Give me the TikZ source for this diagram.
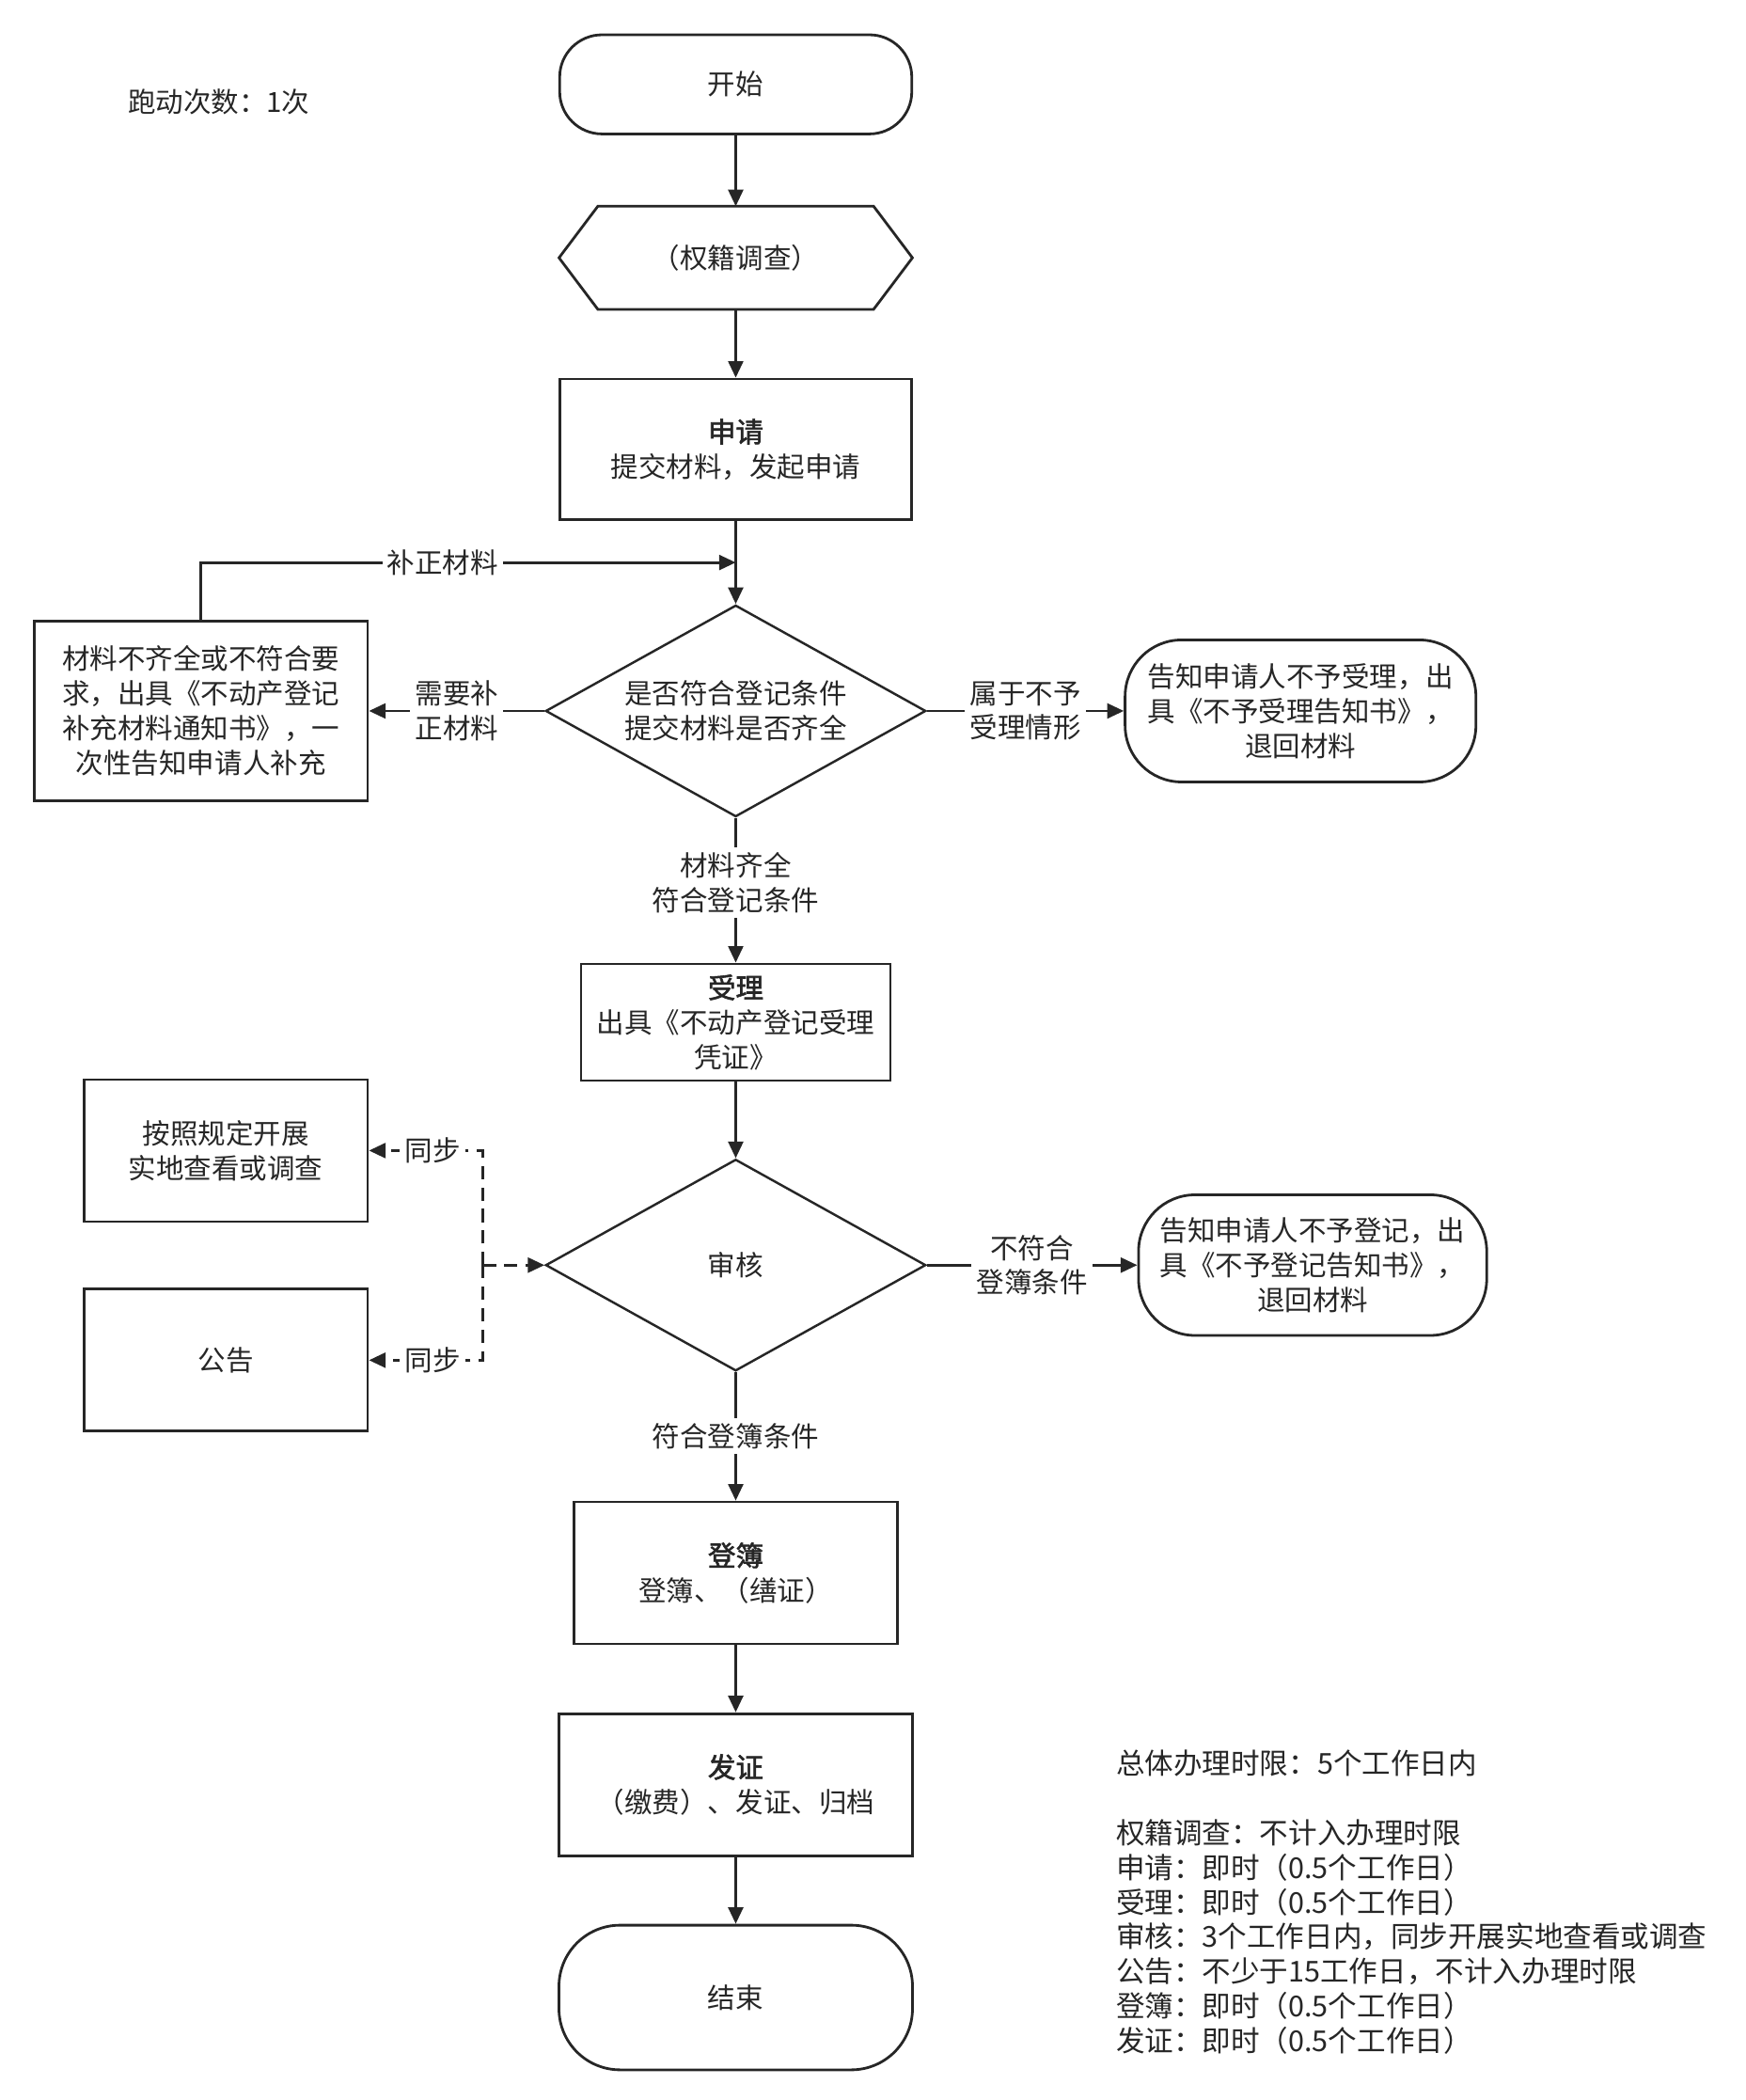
\documentclass[tikz,border=0pt]{standalone}
\usepackage{fontspec}
\setmainfont{Noto Sans CJK SC}[AutoFakeBold=2]
\usepackage{tikz}
\usetikzlibrary{positioning,shapes.geometric,arrows.meta,calc}

\definecolor{ink}{RGB}{38,38,38}

\tikzset{
  txt/.style={font=\fontsize{8.4}{10.5}\selectfont, text=ink},
  term/.style={txt, draw=ink, line width=0.8pt, rounded corners=0.45cm, minimum width=3.745cm, minimum height=1.054cm, align=center},
  proc/.style={txt, draw=ink, line width=0.8pt, align=center, inner sep=2pt},
  dec/.style={txt, draw=ink, line width=0.7pt, diamond, aspect=1.8, minimum width=4.044cm, minimum height=2.25cm, inner sep=0pt, align=center},
  endbox/.style={txt, draw=ink, line width=0.8pt, rounded corners=0.6cm, align=center, inner sep=2pt},
  lbl/.style={txt, fill=white, align=center, inner sep=1.5pt},
  flow/.style={draw=ink, line width=0.8pt, -{Triangle[length=5pt,width=4.5pt]}},
  sync/.style={flow, dash pattern=on 4pt off 2.5pt},
}

\begin{document}
\begin{tikzpicture}
\useasboundingbox (0,0) rectangle (18.57,-22.33);

% Define nodes
\node[term] (start) at (7.825,-0.897) {开始};
\node[txt, minimum width=3.745cm, minimum height=1.082cm, below=0.755cm of start] (survey) {（权籍调查）};
\draw[draw=ink, line width=0.8pt] (survey.west) -- ($(survey.north west)+(0.413,0)$) -- ($(survey.north east)+(-0.413,0)$) -- (survey.east) -- ($(survey.south east)+(-0.413,0)$) -- ($(survey.south west)+(0.413,0)$) -- cycle;
\node[proc, minimum width=3.745cm, minimum height=1.495cm, below=0.727cm of survey] (apply) {\textbf{申请}\\提交材料，发起申请};
\node[dec, below=0.883cm of apply] (check) {是否符合登记条件\\提交材料是否齐全};
\node[proc, minimum width=3.546cm, minimum height=1.908cm, left=1.866cm of check] (lack) {材料不齐全或不符合要\\求，出具《不动产登记\\补充材料通知书》，一\\次性告知申请人补充};
\node[endbox, minimum width=3.731cm, minimum height=1.51cm, right=2.093cm of check] (refuse) {告知申请人不予受理，出\\具《不予受理告知书》，\\退回材料};
\node[proc, minimum width=3.29cm, minimum height=1.239cm, below=1.539cm of check] (accept) {\textbf{受理}\\出具《不动产登记受理\\凭证》};
\node[dec, below=0.812cm of accept] (review) {审核};
\node[proc, minimum width=3.019cm, minimum height=1.51cm, left=1.866cm of review, yshift=1.218cm] (site) {按照规定开展\\实地查看或调查};
\node[proc, minimum width=3.019cm, minimum height=1.51cm, left=1.866cm of review, yshift=-1.011cm] (notice) {公告};
\node[endbox, minimum width=3.703cm, minimum height=1.495cm, right=2.236cm of review] (deny) {告知申请人不予登记，出\\具《不予登记告知书》，\\退回材料};
\node[proc, minimum width=3.446cm, minimum height=1.51cm, below=1.367cm of review] (record) {\textbf{登簿}\\登簿、（缮证）};
\node[proc, minimum width=3.76cm, minimum height=1.51cm, below=0.712cm of record] (issue) {\textbf{发证}\\（缴费）、发证、归档};
\node[term, minimum width=3.76cm, minimum height=1.538cm, rounded corners=0.65cm, below=0.712cm of issue] (finish) {结束};

% Notes
\node[txt, anchor=west, inner sep=0pt] (trips) at (1.353,-1.082) {跑动次数：1次};
\node[txt, font=\fontsize{8.7}{10.5}\selectfont, anchor=north west, align=left, inner sep=0pt] (limits) at (11.863,-18.6) {总体办理时限：5个工作日内\\[10.5pt]权籍调查：不计入办理时限\\申请：即时（0.5个工作日）\\受理：即时（0.5个工作日）\\审核：3个工作日内，同步开展实地查看或调查\\公告：不少于15工作日，不计入办理时限\\登簿：即时（0.5个工作日）\\发证：即时（0.5个工作日）};

% Edges
\draw[flow] (start) -- (survey);
\draw[flow] (survey) -- (apply);
\draw[flow] (apply) -- (check);
\coordinate[below=0.442cm of apply.south] (join);
\draw[flow] (lack.north) |- (join) node[lbl, pos=0.726] {补正材料};
\draw[flow] (check) -- (lack) node[lbl, midway] {需要补\\正材料};
\draw[flow] (check) -- (refuse) node[lbl, midway] {属于不予\\受理情形};
\draw[flow] (check) -- (accept) node[lbl, pos=0.45] {材料齐全\\符合登记条件};
\draw[flow] (accept) -- (review);
\coordinate[left=0.655cm of review] (fork);
\draw[sync] (fork) -- (review);
\draw[sync] (fork) |- (site) node[lbl, pos=0.72] {同步};
\draw[sync] (fork) |- (notice) node[lbl, pos=0.72] {同步};
\draw[flow] (review) -- (deny) node[lbl, midway] {不符合\\登簿条件};
\draw[flow] (review) -- (record) node[lbl, midway] {符合登簿条件};
\draw[flow] (record) -- (issue);
\draw[flow] (issue) -- (finish);
\end{tikzpicture}
\end{document}
